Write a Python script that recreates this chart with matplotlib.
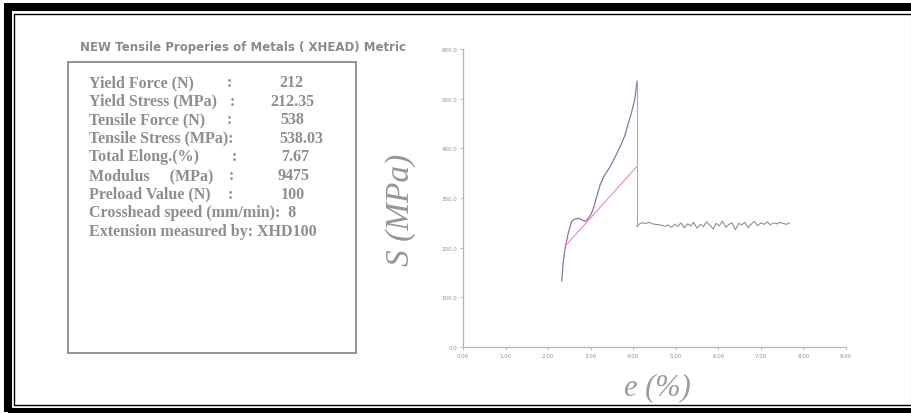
import numpy as np
import matplotlib.pyplot as plt
from matplotlib.patches import Rectangle

# tensile test curve (strain %, stress MPa)
strain = [2.32, 2.36, 2.41, 2.47, 2.55, 2.59, 2.65, 2.71, 2.77, 2.82, 2.88, 2.94,
          3.00, 3.06, 3.14, 3.22, 3.32, 3.45, 3.57, 3.69, 3.80, 3.88, 3.96, 4.04, 4.09]
stress = [133, 175, 204, 228, 252, 256, 258, 259, 257, 255, 253, 259,
          266, 278, 302, 326, 345, 362, 382, 403, 425, 449, 472, 500, 535]

# post-fracture trace
tail_x = [4.09, 4.15, 4.22, 4.30, 4.38, 4.45, 4.52, 4.60, 4.68, 4.75, 4.82, 4.90,
          4.98, 5.05, 5.12, 5.20, 5.28, 5.35, 5.42, 5.50, 5.58, 5.65, 5.72, 5.80,
          5.88, 5.95, 6.02, 6.10, 6.18, 6.25, 6.32, 6.40, 6.48, 6.55, 6.62, 6.70,
          6.78, 6.85, 6.92, 7.00, 7.08, 7.15, 7.22, 7.30, 7.38, 7.45, 7.52, 7.60, 7.67]
tail_y = [243, 248, 250, 249, 251, 248, 247, 246, 245, 243, 246, 241,
          247, 243, 250, 240, 248, 244, 251, 239, 247, 242, 252, 245,
          238, 249, 244, 253, 241, 247, 250, 236, 249, 246, 251, 240,
          248, 253, 244, 250, 247, 252, 246, 250, 248, 251, 249, 247, 250]

# offset (modulus) line
offset_x = [2.40, 4.08]
offset_y = [203, 363]

# summary table
labels = ["Yield Force (N)", "Yield Stress (MPa)", "Tensile Force (N)",
          "Tensile Stress (MPa):", "Total Elong.(%)", "Modulus     (MPa)",
          "Preload Value (N)", "Crosshead speed (mm/min):  8",
          "Extension measured by: XHD100"]
colon_x = [229, 232, 229, None, 234, 231, 230, None, None]
values = ["212", "212.35", "538", "538.03", "7.67", "9475", "100", None, None]
value_x = [291, 292, 292, 301, 295, 294, 293, None, None]

xticks = np.arange(0, 10)
xtick_labels = ["%.2f" % v for v in xticks]
yticks = [0, 100, 200, 300, 400, 500, 600]
ytick_labels = ["%.1f" % v for v in yticks]

W, H = 912, 414
fig = plt.figure(figsize=(W / 100, H / 100), dpi=100)

def px(x, y):
    return x / W, 1 - y / H

# double frame
fig.patches.append(Rectangle(px(8, 413), 920 / W, 405 / H, transform=fig.transFigure,
                             fill=False, ec='black', lw=5.8))
fig.patches.append(Rectangle(px(14.5, 405.5), 920 / W, 391 / H, transform=fig.transFigure,
                             fill=False, ec='black', lw=1.0))
fig.patches.append(Rectangle(px(911, 405.5), 1 / W, 391 / H, transform=fig.transFigure,
                             fill=False, ec='#999999', lw=0.8))

grey = '#8e8e8e'

# left panel
fig.text(*px(80, 48), "NEW Tensile Properies of Metals ( XHEAD) Metric", fontsize=8.45,
         fontweight='bold', color='#8a8a8a', family='DejaVu Sans', va='center', ha='left')
fig.patches.append(Rectangle(px(68.5, 354), 288 / W, 291 / H, transform=fig.transFigure,
                             fill=False, ec='#8c8c8c', lw=1.3))
for i, lab in enumerate(labels):
    y = 83 + i * 18.6
    fig.text(*px(89, y), lab, fontsize=11.5, fontweight='bold', color=grey,
             family='Liberation Serif', va='center', ha='left')
    if colon_x[i] is not None:
        fig.text(*px(colon_x[i], y), ":", fontsize=11.5, fontweight='bold', color=grey,
                 family='Liberation Serif', va='center', ha='center')
    if values[i] is not None:
        fig.text(*px(value_x[i], y), values[i], fontsize=11.5, fontweight='bold', color=grey,
                 family='Liberation Serif', va='center', ha='center')

# chart
l, b = px(463, 348)
ax = fig.add_axes([l, b, (846 - 463) / W, (348 - 50) / H])
ax.plot(strain, stress, color='#8576a6', lw=0.9)
ax.plot([strain[-1], tail_x[0]], [stress[-1], tail_y[0]], color='#b0a6bc', lw=0.8)
ax.plot(tail_x, tail_y, color='#8e8e9a', lw=0.8)
ax.plot(offset_x, offset_y, color='#e585d6', lw=0.8)

ax.set_xlim(0, 9)
ax.set_ylim(0, 600)
ax.set_xticks(xticks)
ax.set_xticklabels(xtick_labels)
ax.set_yticks(yticks)
ax.set_yticklabels(ytick_labels)
ax.tick_params(labelsize=4, colors='#b0b0b0', labelcolor='#9a8c8a', length=2, width=0.6, pad=2)
for s in ['top', 'right']:
    ax.spines[s].set_visible(False)
for s in ['left', 'bottom']:
    ax.spines[s].set_color('#b4b4b4')
    ax.spines[s].set_linewidth(0.9)

fig.text(*px(401, 210), "S (MPa)", fontsize=24, style='italic', color='#969696',
         family='Liberation Serif', rotation=90, va='center', ha='center')
fig.text(*px(657, 388), "e (%)", fontsize=22, style='italic', color='#9a9a9a',
         family='Liberation Serif', va='center', ha='center')

fig.savefig("out.png", dpi=100)
